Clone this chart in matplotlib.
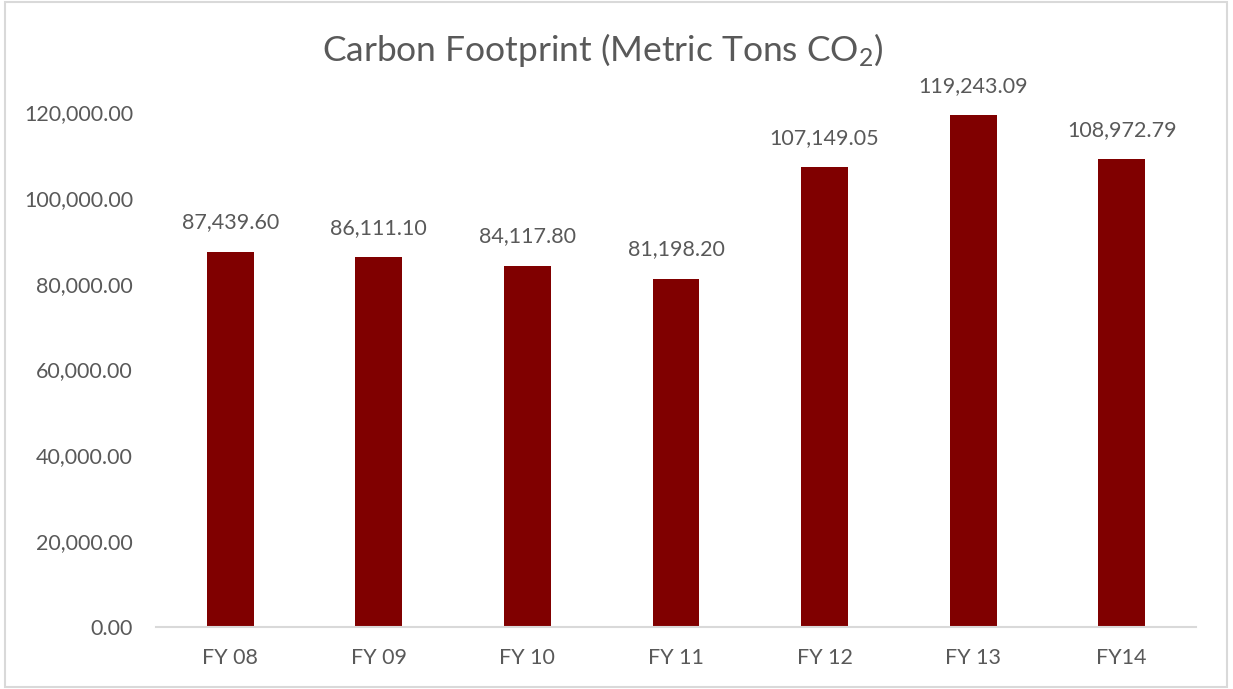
import matplotlib.pyplot as plt
from matplotlib.patches import Rectangle
from matplotlib.ticker import FuncFormatter

plt.rcParams['font.family'] = ['Lato', 'DejaVu Sans']
plt.rcParams['mathtext.fontset'] = 'custom'
plt.rcParams['mathtext.rm'] = 'Lato'
plt.rcParams['mathtext.it'] = 'Lato'

years = ['FY 08', 'FY 09', 'FY 10', 'FY 11', 'FY 12', 'FY 13', 'FY14']
tons = [87439.60, 86111.10, 84117.80, 81198.20, 107149.05, 119243.09, 108972.79]

text_col = '#595959'
bar_col = '#800000'

fig = plt.figure(figsize=(12.33, 6.89), dpi=100)
ax = fig.add_axes([156 / 1233, 1 - 627 / 689, 1040 / 1233, 515 / 689])

x = range(len(years))
bars = ax.bar(x, tons, width=0.316, color=bar_col)

for b, v in zip(bars, tons):
    ax.annotate(f'{v:,.2f}', (b.get_x() + b.get_width() / 2, v),
                xytext=(0, 14), textcoords='offset points',
                ha='center', va='bottom', fontsize=15.5, color=text_col)

ax.set_xlim(-0.5, len(years) - 0.5)
ax.set_ylim(0, 120000)
ax.set_yticks(range(0, 120001, 20000))
ax.yaxis.set_major_formatter(FuncFormatter(lambda v, p: f'{v:,.2f}'))
ax.set_xticks(list(x))
ax.set_xticklabels(years)
ax.tick_params(axis='both', length=0, labelsize=15.5, labelcolor=text_col)
ax.tick_params(axis='x', pad=15)
ax.tick_params(axis='y', pad=16.5)

for s in ['top', 'right', 'left']:
    ax.spines[s].set_visible(False)
ax.spines['bottom'].set_color('#d9d9d9')
ax.spines['bottom'].set_linewidth(1.5)

fig.text(0.489, 1 - 50 / 689, r'Carbon Footprint (Metric Tons CO$_2$)',
         ha='center', va='center', fontsize=25.5, color=text_col)

# chart area border
fig.patches.append(Rectangle((5 / 1233, 2 / 689), 1222 / 1233, 685 / 689,
                             transform=fig.transFigure, fill=False,
                             edgecolor='#d9d9d9', linewidth=1.5))

fig.savefig('out.png', dpi=100)
